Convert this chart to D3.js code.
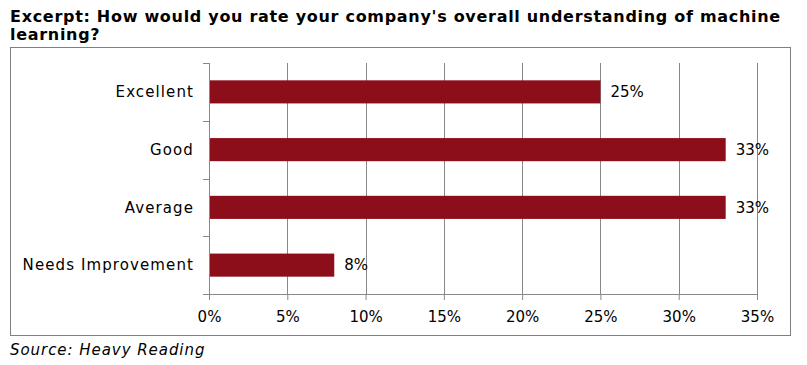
<!DOCTYPE html>
<html>
<head>
<meta charset="utf-8">
<script src="https://cdn.jsdelivr.net/npm/d3@7"></script>
<style>
  body { margin: 0; background: #fff; }
  text { font-family: Verdana, "DejaVu Sans", sans-serif; }
</style>
</head>
<body>
<svg id="chart" width="807" height="365"></svg>
<script>
// chart data
const categories = ["Excellent", "Good", "Average", "Needs Improvement"];
const values = [25, 33, 33, 8];
const tickValues = [0, 5, 10, 15, 20, 25, 30, 35];

const svg = d3.select("#chart");
const plotLeft = 209, plotRight = 757, plotTop = 63, plotBottom = 294;

// title, two lines
const title = svg.append("text")
  .style("font-weight", "bold")
  .style("font-size", "16px")
  .style("letter-spacing", "0.7px")
  .attr("fill", "#000");
title.append("tspan").attr("x", 10).attr("y", 22)
  .text("Excerpt: How would you rate your company's overall understanding of machine");
title.append("tspan").attr("x", 10).attr("y", 40).text("learning?");

// outer frame
svg.append("rect")
  .attr("x", 10.5).attr("y", 47.5)
  .attr("width", 780).attr("height", 288)
  .attr("fill", "none")
  .attr("stroke", "#808080");

const x = d3.scaleLinear()
  .domain([0, 35])
  .range([plotLeft, plotRight]);

const y = d3.scaleBand()
  .domain(categories)
  .range([plotTop, plotBottom])
  .paddingInner(0.6)
  .paddingOuter(0.3);

// vertical gridlines
svg.append("g")
  .selectAll("line")
  .data(tickValues.slice(1))
  .join("line")
    .attr("x1", d => Math.round(x(d)) + 0.5)
    .attr("x2", d => Math.round(x(d)) + 0.5)
    .attr("y1", plotTop)
    .attr("y2", plotBottom)
    .attr("stroke", "#888");

// bars
svg.append("g")
  .selectAll("rect")
  .data(values)
  .join("rect")
    .attr("x", x(0) + 1)
    .attr("y", (d, i) => y(categories[i]))
    .attr("width", d => x(d) - x(0) - 1)
    .attr("height", y.bandwidth())
    .attr("fill", "#8C0E1B");

// value labels
svg.append("g")
  .selectAll("text")
  .data(values)
  .join("text")
    .attr("x", d => x(d) + 10)
    .attr("y", (d, i) => y(categories[i]) + y.bandwidth() / 2)
    .attr("dy", "0.35em")
    .style("font-size", "15px")
    .attr("fill", "#000")
    .text(d => d + "%");

// x axis
const xAxis = svg.append("g")
  .attr("transform", `translate(0,${plotBottom})`)
  .call(d3.axisBottom(x).tickValues(tickValues).tickFormat(d => d + "%").tickSizeOuter(0).tickSize(6).tickPadding(11));
xAxis.select(".domain").attr("stroke", "#888").attr("d", `M${x(0) - 6},0.5H${x(35) + 0.5}`);
xAxis.selectAll(".tick line").attr("stroke", "#888");
xAxis.selectAll(".tick text")
  .style("font-size", "15px")
  .style("font-family", "Verdana, 'DejaVu Sans', sans-serif")
  .attr("fill", "#000");

// y axis: ticks at band boundaries
const bandEdges = d3.range(categories.length + 1)
  .map(i => plotTop + i * (plotBottom - plotTop) / categories.length);
svg.append("line")
  .attr("x1", x(0) + 0.5).attr("x2", x(0) + 0.5)
  .attr("y1", plotTop).attr("y2", plotBottom)
  .attr("stroke", "#888");
svg.append("g")
  .selectAll("line")
  .data(bandEdges)
  .join("line")
    .attr("x1", x(0) - 6)
    .attr("x2", x(0))
    .attr("y1", d => Math.round(d) + 0.5)
    .attr("y2", d => Math.round(d) + 0.5)
    .attr("stroke", "#888");

// category labels
svg.append("g")
  .selectAll("text")
  .data(categories)
  .join("text")
    .attr("x", 194)
    .attr("y", d => y(d) + y.bandwidth() / 2)
    .attr("dy", "0.35em")
    .attr("text-anchor", "end")
    .style("font-size", "15px")
    .style("letter-spacing", "1.1px")
    .attr("fill", "#000")
    .text(d => d);

// source note
svg.append("text")
  .attr("x", 10)
  .attr("y", 355)
  .style("font-size", "15px")
  .style("font-style", "italic")
  .style("letter-spacing", "0.95px")
  .attr("fill", "#000")
  .text("Source: Heavy Reading");
</script>
</body>
</html>
